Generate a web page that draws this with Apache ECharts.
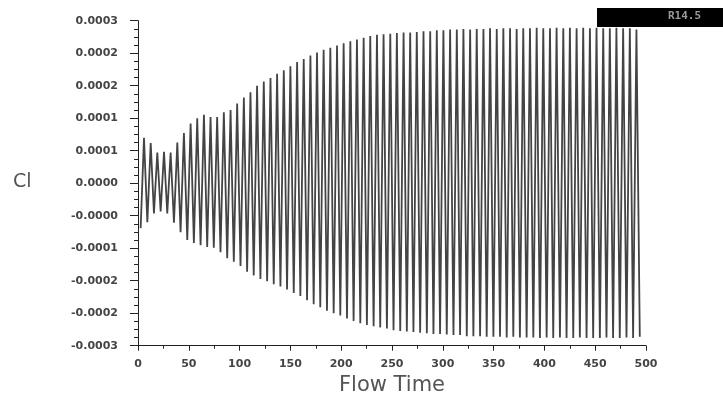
<!DOCTYPE html>
<html>
<head>
<meta charset="utf-8">
<script src="https://cdn.jsdelivr.net/npm/echarts@6/dist/echarts.min.js"></script>
<style>
  html, body { margin: 0; padding: 0; background: #fff; }
  #chart { width: 723px; height: 400px; }
</style>
</head>
<body>
<div id="chart"></div>
<script>
// Cl peaks (maxima) — flow time and value in units of 1e-4
const peakTime = [
  5.9, 12.5, 19.0, 25.6, 32.1, 38.7, 45.2, 51.8, 58.3, 64.9,
  71.4, 77.9, 84.5, 91.1, 97.6, 104.2, 110.7, 117.2, 123.8, 130.4,
  136.9, 143.5, 150.0, 156.6, 163.1, 169.7, 176.2, 182.7, 189.3, 195.9,
  202.4, 209.0, 215.5, 222.1, 228.6, 235.2, 241.7, 248.3, 254.8, 261.4,
  267.9, 274.4, 281.0, 287.6, 294.1, 300.6, 307.2, 313.8, 320.3, 326.9,
  333.4, 340.0, 346.5, 353.1, 359.6, 366.2, 372.7, 379.2, 385.8, 392.4,
  398.9, 405.5, 412.0, 418.6, 425.1, 431.7, 438.2, 444.8, 451.3, 457.9,
  464.4, 470.9, 477.5, 484.1, 490.6
];
const peakCl = [
  0.77, 0.68, 0.52, 0.53, 0.52, 0.69, 0.85, 1.01, 1.10, 1.16,
  1.12, 1.12, 1.20, 1.24, 1.35, 1.45, 1.54, 1.65, 1.72, 1.78,
  1.85, 1.91, 1.98, 2.05, 2.10, 2.16, 2.21, 2.26, 2.29, 2.33,
  2.37, 2.40, 2.43, 2.46, 2.49, 2.51, 2.52, 2.53, 2.54, 2.55,
  2.55, 2.56, 2.57, 2.57, 2.59, 2.59, 2.60, 2.60, 2.61, 2.60,
  2.61, 2.61, 2.62, 2.61, 2.62, 2.62, 2.61, 2.62, 2.62, 2.63,
  2.62, 2.62, 2.63, 2.62, 2.63, 2.62, 2.63, 2.62, 2.63, 2.62,
  2.62, 2.63, 2.62, 2.62, 2.60
];

// Cl troughs (minima) — flow time and value in units of 1e-4
const troughTime = [
  2.6, 9.2, 15.7, 22.3, 28.8, 35.4, 41.9, 48.5, 55.0, 61.6,
  68.1, 74.6, 81.2, 87.8, 94.3, 100.9, 107.4, 113.9, 120.5, 127.1,
  133.6, 140.2, 146.7, 153.3, 159.8, 166.4, 172.9, 179.4, 186.0, 192.6,
  199.1, 205.7, 212.2, 218.8, 225.3, 231.9, 238.4, 245.0, 251.5, 258.1,
  264.6, 271.1, 277.7, 284.3, 290.8, 297.3, 303.9, 310.5, 317.0, 323.6,
  330.1, 336.7, 343.2, 349.8, 356.3, 362.9, 369.4, 375.9, 382.5, 389.1,
  395.6, 402.2, 408.7, 415.3, 421.8, 428.4, 434.9, 441.5, 448.0, 454.6,
  461.1, 467.6, 474.2, 480.8, 487.3, 493.9
];
const troughCl = [
  -0.76, -0.66, -0.51, -0.48, -0.51, -0.67, -0.83, -0.96, -1.01, -1.05,
  -1.08, -1.09, -1.17, -1.27, -1.33, -1.40, -1.50, -1.56, -1.62, -1.66,
  -1.71, -1.75, -1.80, -1.86, -1.91, -1.98, -2.05, -2.10, -2.16, -2.20,
  -2.24, -2.29, -2.33, -2.37, -2.40, -2.42, -2.44, -2.46, -2.49, -2.50,
  -2.51, -2.52, -2.53, -2.54, -2.55, -2.55, -2.56, -2.57, -2.57, -2.59,
  -2.59, -2.59, -2.60, -2.60, -2.60, -2.61, -2.60, -2.61, -2.61, -2.61,
  -2.62, -2.61, -2.62, -2.61, -2.62, -2.62, -2.61, -2.62, -2.62, -2.62,
  -2.61, -2.62, -2.62, -2.61, -2.62, -2.60
];

// tick labels as printed by the solver (bottom to top)
const yTickLabels = [
  '-0.0003', '-0.0002', '-0.0002', '-0.0001', '-0.0000', '0.0000',
  '0.0001', '0.0001', '0.0002', '0.0002', '0.0003'
];
const yMin = -0.000275, yMax = 0.000275, yStep = 0.000055;

// interleave troughs and peaks into one trace
const clData = [];
troughTime.forEach((t, i) => {
  clData.push([t, troughCl[i] * 1e-4]);
  if (i < peakTime.length) clData.push([peakTime[i], peakCl[i] * 1e-4]);
});

const chart = echarts.init(document.getElementById('chart'), null, { renderer: 'canvas' });
const axisText = { color: '#444', fontSize: 11, fontWeight: 'bold', fontFamily: 'DejaVu Sans, sans-serif' };
chart.setOption({
  animation: false,
  backgroundColor: '#fff',
  grid: { left: 138, right: 77, top: 20.7, bottom: 54.3, containLabel: false, outerBoundsMode: 'none' },
  xAxis: {
    type: 'value',
    min: 0, max: 500, interval: 50,
    name: 'Flow Time',
    nameLocation: 'middle',
    nameGap: 28,
    nameTextStyle: { color: '#555', fontSize: 21, fontFamily: 'DejaVu Sans, sans-serif' },
    axisLine: { show: true, onZero: false, lineStyle: { color: '#222', width: 1 } },
    axisTick: { show: true, inside: false, length: 5, lineStyle: { color: '#222' } },
    minorTick: { show: true, splitNumber: 2, length: 3, lineStyle: { color: '#222' } },
    splitLine: { show: false },
    axisLabel: Object.assign({ margin: 13 }, axisText)
  },
  yAxis: {
    type: 'value',
    min: yMin, max: yMax, interval: yStep,
    axisLine: { show: true, onZero: false, lineStyle: { color: '#222', width: 1 } },
    axisTick: { show: true, inside: false, length: 8, lineStyle: { color: '#222' } },
    minorTick: { show: true, splitNumber: 4, length: 4, lineStyle: { color: '#222' } },
    splitLine: { show: false },
    axisLabel: Object.assign({
      margin: 20,
      showMinLabel: true,
      showMaxLabel: true,
      formatter: (v) => yTickLabels[Math.round((v - yMin) / yStep)]
    }, axisText)
  },
  graphic: [
    { type: 'text', left: 13, top: 173, style: { text: 'Cl', fill: '#555', font: '19px "DejaVu Sans", sans-serif' } },
    { type: 'rect', shape: { x: 597, y: 8, width: 126, height: 19 }, style: { fill: '#000' } },
    { type: 'text', left: 668, top: 11, style: { text: 'R14.5', fill: '#9a9a9a', font: 'bold 11px "DejaVu Sans Mono", monospace' } }
  ],
  series: [{
    type: 'line',
    data: clData,
    showSymbol: false,
    sampling: null,
    lineStyle: { color: '#444', width: 1.8 },
    silent: true
  }]
});
</script>
</body>
</html>
